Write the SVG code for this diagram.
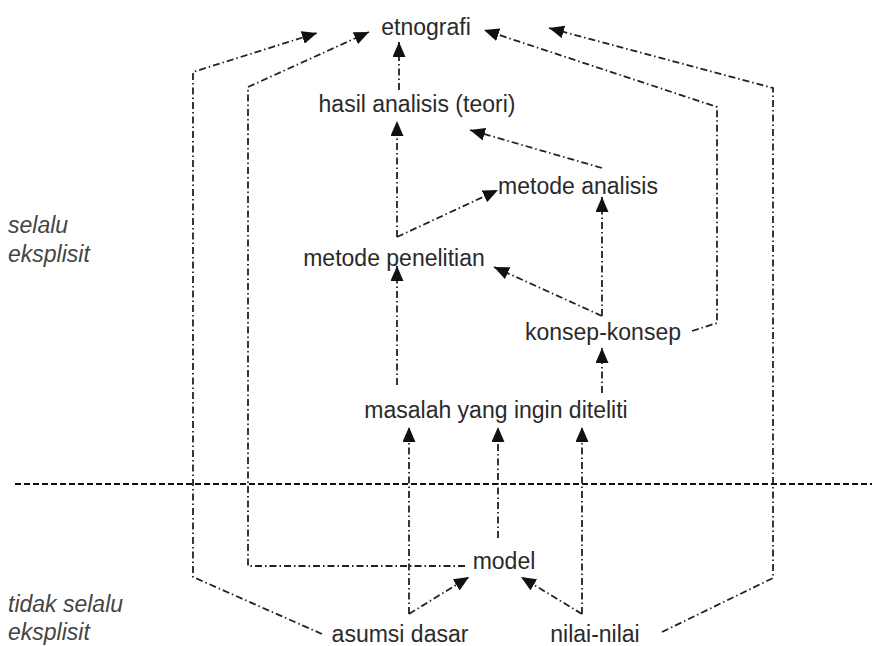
<svg xmlns="http://www.w3.org/2000/svg" width="872" height="646" viewBox="0 0 872 646">
<defs>
<marker id="ah" markerUnits="userSpaceOnUse" markerWidth="15" markerHeight="13" refX="15" refY="6.5" orient="auto">
<path d="M0,0 L15,6.5 L0,13 z" fill="#111"/>
</marker>
<style>
.lbl{font-family:"Liberation Sans",Arial,sans-serif;font-size:23px;fill:#2a2a2a;text-anchor:middle}
.side{font-family:"Liberation Sans",Arial,sans-serif;font-size:23px;font-style:italic;fill:#444}
.c{fill:none;stroke:#222;stroke-width:1.8;stroke-dasharray:7 3 1.5 3}
.ca{fill:none;stroke:#222;stroke-width:1.8;stroke-dasharray:7 3 1.5 3;marker-end:url(#ah)}
.sep{fill:none;stroke:#111;stroke-width:2;stroke-dasharray:6 3}
</style>
</defs>
<rect width="872" height="646" fill="#fff"/>
<line class="sep" x1="15" y1="484" x2="872" y2="484"/>
<g id="connectors">
<path class="ca" d="M322,634 L193,577 L193,72 L317,33"/>
<path class="ca" d="M465,566 L248,566 L248,87 L369,32"/>
<path class="ca" d="M662,632 L773,578 L773,88 L549,28"/>
<path class="ca" d="M692,331 L717,323 L717,107 L484,30"/>
<path class="ca" d="M399,90 L399,42"/>
<path class="ca" d="M397,237 L397,121"/>
<path class="ca" d="M397,237 L498,190"/>
<path class="ca" d="M602,168 L470,130"/>
<path class="ca" d="M602,316 L602,197"/>
<path class="ca" d="M602,316 L494,267"/>
<path class="ca" d="M397,385 L397,266"/>
<path class="ca" d="M602,393 L602,348"/>
<path class="ca" d="M409,614 L409,427"/>
<path class="ca" d="M409,614 L469,577"/>
<path class="ca" d="M498,538 L498,427"/>
<path class="ca" d="M582,614 L582,427"/>
<path class="ca" d="M582,614 L521,577"/>
</g>
<g id="etnografi"><text class="lbl" x="426" y="35">etnografi</text></g>
<g id="hasil"><text class="lbl" x="417" y="112">hasil analisis (teori)</text></g>
<g id="metode-analisis"><text class="lbl" x="578" y="194">metode analisis</text></g>
<g id="metode-penelitian"><text class="lbl" x="394" y="266">metode penelitian</text></g>
<g id="konsep"><text class="lbl" x="603" y="340">konsep-konsep</text></g>
<g id="masalah"><text class="lbl" x="496" y="418">masalah yang ingin diteliti</text></g>
<g id="model"><text class="lbl" x="504" y="569">model</text></g>
<g id="asumsi"><text class="lbl" x="400" y="642">asumsi dasar</text></g>
<g id="nilai"><text class="lbl" x="595" y="642">nilai-nilai</text></g>
<g id="side-top"><text class="side" x="8" y="233">selalu</text><text class="side" x="8" y="262">eksplisit</text></g>
<g id="side-bottom"><text class="side" x="8" y="612">tidak selalu</text><text class="side" x="8" y="640">eksplisit</text></g>
</svg>
